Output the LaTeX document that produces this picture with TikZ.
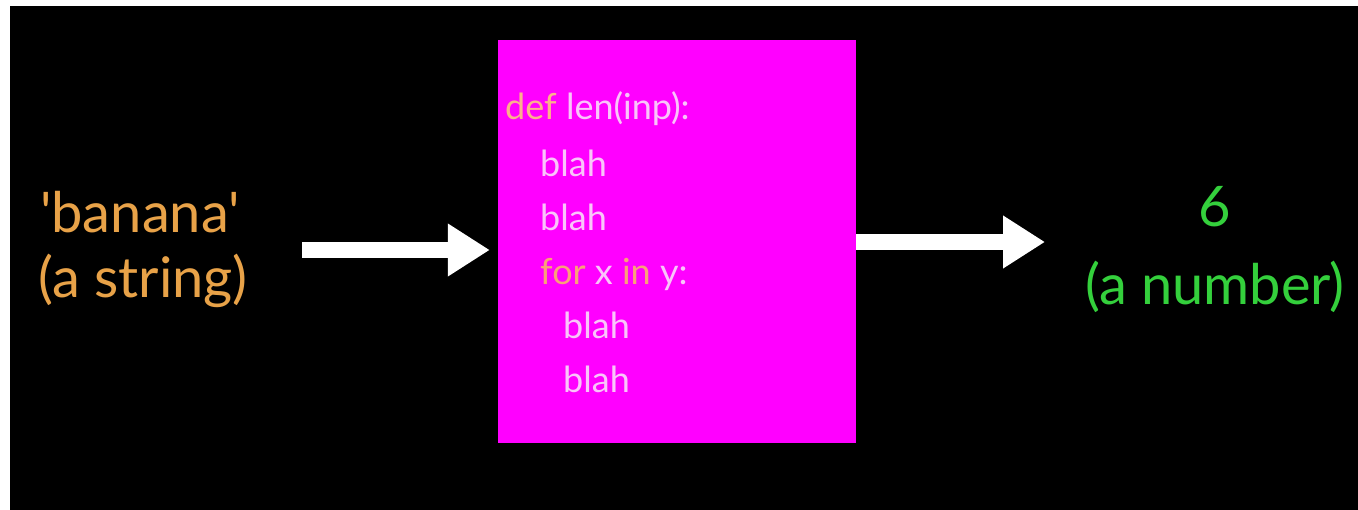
\documentclass[tikz,border=0pt]{standalone}
\usepackage{fontspec}
\setmainfont{Lato}[Ligatures=TeXOff]
\usetikzlibrary{arrows.meta}
\definecolor{bgblack}{RGB}{0,0,0}
\definecolor{boxmag}{RGB}{255,0,255}
\definecolor{strorange}{RGB}{232,162,72}
\definecolor{numgreen}{RGB}{52,208,60}
\definecolor{codepink}{RGB}{250,196,250}
\definecolor{kwpeach}{RGB}{252,176,140}
\definecolor{kworange}{RGB}{250,160,120}
\tikzset{
  lbl/.style={anchor=base, inner sep=0pt, font=\fontsize{56}{60}\selectfont},
  codeline/.style={anchor=base west, inner sep=0pt, text=codepink, font=\fontsize{36}{40}\selectfont},
  funcbox/.style={fill=boxmag, draw=none, minimum width=358pt, minimum height=403pt, inner sep=0pt},
  bigarrow/.style={draw=white, line width=16pt, -{Triangle[length=42pt,width=50pt]}},
}
\begin{document}
\begin{tikzpicture}[x=1pt,y=-1pt]
\useasboundingbox (0,0) rectangle (1358,510);
\fill[white] (0,0) rectangle (1358,510);
\fill[bgblack] (10,6) rectangle (1358,510);
% function box
\node[funcbox] (box) at (677,241.5) {};
% code lines
\node[codeline] (c1) at (505,120) {\textcolor{kwpeach}{def} len(inp):};
\node[codeline] (c2) at (540,177) {blah};
\node[codeline] (c3) at (540,231) {blah};
\node[codeline] (c4) at (540,285) {\textcolor{kworange}{for} x \textcolor{kworange}{in} y:};
\node[codeline] (c5) at (563,339) {blah};
\node[codeline] (c6) at (563,393) {blah};
% input labels
\node[lbl, text=strorange] (inA) at (140,233) {'banana'};
\node[lbl, text=strorange] (inB) at (143,298) {(a string)};
% output labels
\node[lbl, text=numgreen] (outA) at (1215,227) {6};
\node[lbl, text=numgreen] (outB) at (1215,305) {(a number)};
% arrows
\coordinate (a1) at (302,250);
\coordinate (o1) at (1045,242);
\draw[bigarrow, shorten >=8pt] (a1) -- (box.west |- a1);
\draw[bigarrow] (box.east |- o1) -- (o1);
\end{tikzpicture}
\end{document}
